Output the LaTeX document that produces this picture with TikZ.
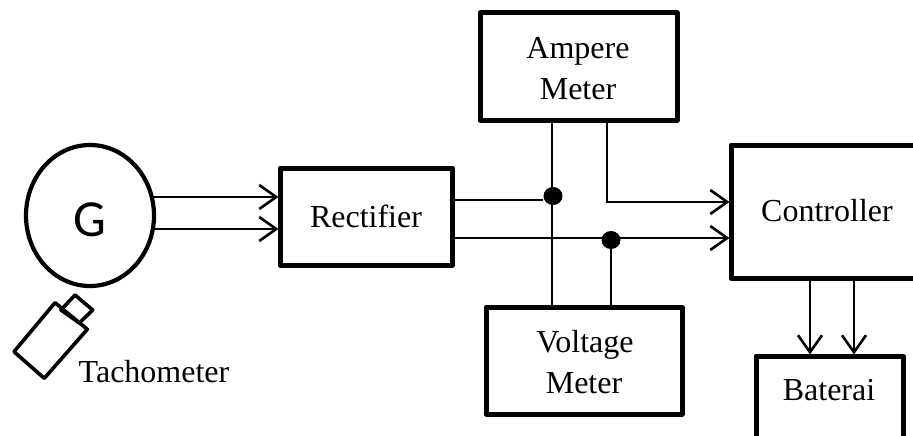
\documentclass[tikz,border=0pt]{standalone}
\usepackage{fontspec}
\setmainfont{Liberation Serif}
\newfontfamily\gfont{Carlito}
\usetikzlibrary{arrows.meta}
\tikzset{
  block/.style={draw=black,line width=5pt,line join=round,inner sep=0pt,minimum width=#1},
  block/.default=100pt,
  wire/.style={draw=black,line width=2.6pt},
  flow/.style={wire,-{Straight Barb[length=17pt,width=24pt,line width=2.6pt]},shorten >=-1pt},
  jdot/.style={fill=black,ellipse,inner sep=0pt,minimum width=19pt,minimum height=18pt},
  txt/.style={font=\fontsize{32}{40}\selectfont,inner sep=0pt,anchor=base},
  tacho/.style={draw=black,line width=3.6pt,line join=round}
}
\usetikzlibrary{shapes.geometric}
\begin{document}
\begin{tikzpicture}[x=1pt,y=-1pt]
\useasboundingbox (0,0) rectangle (913,436);
\clip (0,0) rectangle (913,436);
% blocks
\node[draw=black,line width=4.2pt,ellipse,inner sep=0pt,minimum width=128pt,minimum height=141pt] (gen) at (90,215.5) {};
\node[block=172pt,minimum height=97pt] (rect) at (366,216.5) {};
\node[block=197pt,minimum height=107pt] (amp) at (578.5,66.5) {};
\node[block=196pt,minimum height=107pt] (volt) at (584,360.5) {};
\node[block=240pt,minimum height=133pt] (ctrl) at (851,211.5) {};
\node[block=147pt,minimum height=120pt] (bat) at (829.5,416) {};
% text
\node[font=\gfont\fontsize{52}{52}\selectfont,inner sep=0pt,anchor=base] (gl) at (90,236) {G};
\node[txt] (trect) at (366,227) {Rectifier};
\node[txt] (ta1) at (578,59) {Ampere};
\node[txt] (ta2) at (578,99.5) {Meter};
\node[txt] (tv1) at (585,352) {Voltage};
\node[txt] (tv2) at (584,393) {Meter};
\node[txt] (tc) at (827,221) {Controller};
\node[txt] (tb) at (829,400) {Baterai};
\node[txt] (tt) at (154,382) {Tachometer};
% junctions
\node[jdot] (j1) at (553,196) {};
\node[jdot] (j2) at (611,240) {};
\coordinate (a1) at (607,202);
% connectors
\draw[flow] (gen.east |- 0,197) ++(-2,0) -- (rect.west |- 0,197);
\draw[flow] (gen.east |- 0,229) ++(-2,0) -- (rect.west |- 0,229);
\draw[wire] (rect.east |- 0,200) -- (j1.west |- 0,200);
\draw[flow] (rect.east |- 0,238) -- (ctrl.west |- 0,238);
\draw[wire] (552,0 |- amp.south) -- (552,0 |- volt.north);
\draw[flow] (a1 |- amp.south) -- (a1) -- (ctrl.west |- a1);
\draw[wire] (j2.center) -- (j2 |- volt.north);
\draw[flow] (810,0 |- ctrl.south) -- (810,0 |- bat.north);
\draw[flow] (854,0 |- ctrl.south) -- (854,0 |- bat.north);
% tachometer
\draw[tacho] (55,302.7) -- (87.3,329.3) -- (44.3,378.3) -- (14,351.7) -- cycle;
\draw[tacho] (75,295) -- (92.7,310) -- (79.3,323) -- (61,310) -- cycle;
\end{tikzpicture}
\end{document}
